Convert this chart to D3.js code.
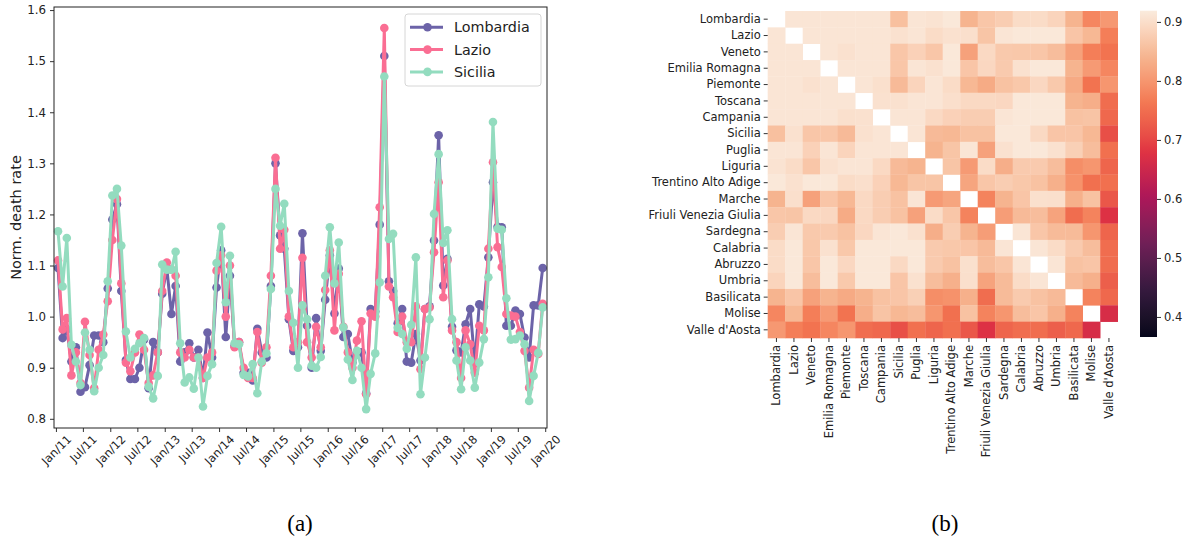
<!DOCTYPE html>
<html>
<head>
<meta charset="utf-8">
<title>Normalized death rate and correlation between regions</title>
<style>
  body { margin: 0; background: white; }
  svg { font-family: "DejaVu Sans", sans-serif; }
</style>
<script src="https://d3js.org/d3.v7.min.js"></script>
</head>
<body>
<script>
let width = 1189
let height = 544

// ---- panel (a): monthly normalized death rate, Jan/11 .. Dec/19
let months = d3.range(108).map(i => new Date(2011, i, 15))
let tickDates = d3.range(19).map(i => new Date(2011, i * 6, 1))
let yTicks = [0.8, 0.9, 1.0, 1.1, 1.2, 1.3, 1.4, 1.5, 1.6]

let lombardia = [
  1.095, 0.958, 0.975, 0.912, 0.940, 0.853, 0.862, 0.905, 0.963, 0.963, 0.950, 1.055,
  1.190, 1.220, 1.050, 0.915, 0.878, 0.878, 0.900, 0.955, 0.860, 0.950, 0.930, 1.045,
  1.095, 1.005, 1.060, 0.912, 0.930, 0.948, 0.920, 0.935, 0.880, 0.969, 0.920, 1.057,
  1.130, 0.960, 1.080, 0.943, 0.950, 0.890, 0.890, 0.875, 0.976, 0.930, 0.920, 1.060,
  1.300, 1.159, 1.133, 0.995, 0.933, 0.940, 1.163, 0.982, 0.900, 0.997, 0.933, 1.033,
  1.120, 1.006, 1.094, 0.960, 0.966, 0.910, 0.930, 0.930, 0.850, 1.015, 1.010, 1.180,
  1.510, 1.069, 1.050, 0.987, 1.015, 0.912, 0.910, 0.966, 0.914, 1.015, 1.020, 1.149,
  1.355, 1.061, 1.113, 0.980, 0.934, 0.930, 0.985, 1.015, 0.910, 1.024, 1.020, 1.116,
  1.263, 1.176, 1.175, 0.982, 0.982, 1.012, 1.005, 0.959, 0.920, 1.022, 1.022, 1.095
]
let lazio = [
  1.110, 0.975, 0.997, 0.885, 0.930, 0.870, 0.990, 0.925, 0.860, 0.935, 0.965, 1.030,
  1.150, 1.230, 1.065, 0.910, 0.893, 0.930, 0.965, 0.935, 0.870, 0.885, 0.930, 1.050,
  1.106, 1.092, 1.080, 0.930, 0.920, 0.935, 0.920, 0.920, 0.880, 0.920, 0.930, 1.090,
  1.120, 1.000, 1.100, 0.940, 0.950, 0.900, 0.880, 0.880, 0.970, 0.910, 0.940, 1.080,
  1.311, 1.133, 1.170, 1.000, 0.940, 0.950, 1.115, 0.950, 0.920, 0.980, 0.940, 1.052,
  1.130, 0.973, 1.084, 0.980, 0.930, 0.900, 0.953, 0.991, 0.848, 1.006, 1.000, 1.214,
  1.565, 1.059, 1.038, 0.970, 1.000, 0.950, 0.950, 1.020, 0.897, 1.015, 1.018, 1.126,
  1.263, 1.038, 1.110, 0.973, 0.950, 0.880, 0.973, 0.946, 0.890, 0.982, 0.973, 1.133,
  1.302, 1.136, 1.097, 1.005, 1.002, 1.000, 0.970, 0.933, 0.861, 0.935, 0.927, 1.025
]
let sicilia = [
  1.167, 1.059, 1.154, 0.945, 0.912, 0.866, 0.969, 0.935, 0.854, 0.900, 0.925, 1.069,
  1.237, 1.250, 1.139, 0.971, 0.920, 0.937, 0.948, 0.958, 0.863, 0.840, 0.884, 1.102,
  1.092, 1.092, 1.127, 0.948, 0.871, 0.881, 0.859, 0.920, 0.824, 0.884, 0.907, 1.105,
  1.176, 1.028, 1.119, 0.948, 0.946, 0.886, 0.883, 0.907, 0.850, 0.912, 0.928, 1.054,
  1.250, 1.178, 1.221, 1.050, 0.988, 0.900, 1.022, 0.995, 0.904, 0.900, 0.921, 1.080,
  1.175, 1.065, 1.145, 0.979, 0.916, 0.876, 0.933, 0.900, 0.819, 0.888, 0.928, 1.067,
  1.470, 1.152, 1.162, 0.978, 0.966, 0.937, 0.984, 1.116, 0.848, 0.920, 0.995, 1.201,
  1.318, 1.144, 1.169, 0.995, 0.914, 0.858, 0.940, 0.914, 0.861, 0.910, 0.956, 1.077,
  1.381, 1.172, 1.170, 1.036, 0.955, 0.956, 0.963, 0.946, 0.835, 0.884, 0.929, 1.018
]
let seriesNames = ["Lombardia", "Lazio", "Sicilia"]
let seriesColors = ["#6c63a8", "#fa6e93", "#93dcbf"]

// ---- panel (b): correlation between regions (upper triangle, row r -> columns r+1..19)
let regions = ["Lombardia", "Lazio", "Veneto", "Emilia Romagna", "Piemonte", "Toscana",
  "Campania", "Sicilia", "Puglia", "Liguria", "Trentino Alto Adige", "Marche",
  "Friuli Venezia Giulia", "Sardegna", "Calabria", "Abruzzo", "Umbria", "Basilicata",
  "Molise", "Valle d'Aosta"]
let corrUpper = [
  [.911, .911, .911, .911, .911, .911, .857, .911, .908, .915, .840, .866, .876, .897, .897, .886, .840, .780, .803],
  [.911, .911, .911, .911, .911, .905, .911, .897, .905, .902, .864, .911, .915, .915, .915, .865, .845, .770],
  [.911, .905, .911, .911, .866, .882, .866, .915, .815, .893, .870, .868, .866, .853, .815, .770, .757],
  [.911, .911, .911, .866, .911, .905, .915, .865, .891, .872, .905, .915, .915, .840, .806, .780],
  [.911, .903, .849, .886, .911, .897, .845, .828, .860, .868, .891, .870, .826, .757, .800],
  [.905, .905, .911, .911, .902, .893, .893, .891, .915, .915, .915, .840, .832, .748],
  [.911, .911, .893, .882, .876, .876, .911, .915, .915, .915, .860, .863, .742],
  [.911, .849, .845, .860, .860, .915, .915, .893, .865, .865, .845, .710],
  [.840, .864, .911, .815, .905, .915, .915, .905, .880, .853, .752],
  [.864, .806, .897, .832, .872, .872, .853, .790, .800, .737],
  [.820, .866, .876, .868, .860, .835, .795, .752, .752],
  [.777, .840, .865, .903, .902, .835, .860, .720],
  [.810, .849, .853, .817, .748, .777, .675],
  [.911, .866, .850, .850, .800, .737],
  [.911, .897, .872, .853, .748],
  [.911, .860, .865, .748],
  [.849, .835, .730],
  [.777, .742],
  [.665]
]
let cbarTicks = [0.4, 0.5, 0.6, 0.7, 0.8, 0.9]
let cbarRange = [0.366, 0.919]

let svg = d3.select("body").append("svg")
  .attr("width", width)
  .attr("height", height)

// ================= panel (a) =================
let plot = { left: 54, right: 547, top: 7, bottom: 428 }

let x = d3.scaleTime()
  .domain([new Date(2010, 11, 19), new Date(2020, 0, 13)])
  .range([plot.left, plot.right])
let y = d3.scaleLinear()
  .domain([0.782, 1.606])
  .range([plot.bottom, plot.top])

let yAxis = svg.append("g")
  .attr("transform", `translate(${plot.left},0)`)
  .call(d3.axisLeft(y).tickValues(yTicks).tickFormat(d3.format(".1f")).tickSize(4).tickPadding(4))
yAxis.select(".domain").remove()
yAxis.selectAll("text").attr("font-size", 11.8).attr("fill", "#222").attr("font-family", "DejaVu Sans")
yAxis.selectAll("line").attr("stroke", "#333")

let xAxis = svg.append("g")
  .attr("transform", `translate(0,${plot.bottom})`)
  .call(d3.axisBottom(x).tickValues(tickDates).tickFormat(d3.timeFormat("%b/%y")).tickSize(4))
xAxis.select(".domain").remove()
xAxis.selectAll("line").attr("stroke", "#333")
xAxis.selectAll("text")
  .attr("font-size", 11.5)
  .attr("fill", "#222")
  .attr("font-family", "DejaVu Sans")
  .attr("text-anchor", "middle")
  .attr("dominant-baseline", "central")
  .attr("dy", null)
  .each(function () {
    let len = this.getComputedTextLength()
    let box = (len + 9) / Math.SQRT2
    d3.select(this).attr("y", 6 + box / 2).attr("transform", `rotate(-45,0,${6 + box / 2})`)
  })

svg.append("text")
  .attr("transform", `translate(21,${(plot.top + plot.bottom) / 2}) rotate(-90)`)
  .attr("text-anchor", "middle")
  .attr("font-size", 14.5)
  .attr("fill", "#222")
  .text("Norm. death rate")

let allSeries = [lombardia, lazio, sicilia]
let line = d3.line()
  .x((d, i) => x(months[i]))
  .y(d => y(d))

allSeries.forEach((vals, k) => {
  let g = svg.append("g")
  g.append("path")
    .datum(vals)
    .attr("d", line)
    .attr("fill", "none")
    .attr("stroke", seriesColors[k])
    .attr("stroke-width", 3)
    .attr("stroke-linejoin", "round")
  g.selectAll("circle")
    .data(vals)
    .enter()
    .append("circle")
    .attr("cx", (d, i) => x(months[i]))
    .attr("cy", d => y(d))
    .attr("r", 4.3)
    .attr("fill", seriesColors[k])
})

svg.append("rect")
  .attr("x", plot.left)
  .attr("y", plot.top)
  .attr("width", plot.right - plot.left)
  .attr("height", plot.bottom - plot.top)
  .attr("fill", "none")
  .attr("stroke", "#222")
  .attr("stroke-width", 1)

let legend = svg.append("g")
legend.append("rect")
  .attr("x", 405)
  .attr("y", 14)
  .attr("width", 136)
  .attr("height", 72)
  .attr("rx", 3)
  .attr("fill", "white")
  .attr("fill-opacity", 0.8)
  .attr("stroke", "#d6d6d6")
seriesNames.forEach((name, k) => {
  let ly = 27.3 + k * 22.3
  legend.append("line")
    .attr("x1", 410).attr("x2", 443)
    .attr("y1", ly).attr("y2", ly)
    .attr("stroke", seriesColors[k])
    .attr("stroke-width", 3)
  legend.append("circle")
    .attr("cx", 427.5).attr("cy", ly).attr("r", 4.3)
    .attr("fill", seriesColors[k])
  legend.append("text")
    .attr("x", 454).attr("y", ly)
    .attr("dominant-baseline", "central")
    .attr("font-size", 14.3)
    .attr("fill", "#222")
    .text(name)
})

svg.append("text")
  .attr("x", 300).attr("y", 531)
  .attr("text-anchor", "middle")
  .attr("font-family", "Liberation Serif")
  .attr("font-size", 23)
  .text("(a)")

// ================= panel (b) =================
let hm = { left: 767.7, right: 1117.7, top: 11, bottom: 338 }

let n = regions.length
let matrix = []
for (let r = 0; r < n; r++) {
  for (let c = 0; c < n; c++) {
    if (r === c) continue
    let v = r < c ? corrUpper[r][c - r - 1] : corrUpper[c][r - c - 1]
    matrix.push({ row: regions[r], col: regions[c], value: v })
  }
}

let rocketT = [0, 0.143, 0.286, 0.429, 0.571, 0.714, 0.857, 1]
let rocket = d3.scaleLinear()
  .domain(rocketT.map(t => cbarRange[0] + t * (cbarRange[1] - cbarRange[0])))
  .range(["#03051a", "#35193e", "#701f57", "#ad1759", "#e13342", "#f37651", "#f6b48f", "#faebdd"])
  .interpolate(d3.interpolateLab)
  .clamp(true)

let hx = d3.scaleBand().domain(regions).range([hm.left, hm.right])
let hy = d3.scaleBand().domain(regions).range([hm.top, hm.bottom])

svg.append("g")
  .selectAll("rect")
  .data(matrix)
  .enter()
  .append("rect")
  .attr("x", d => hx(d.col))
  .attr("y", d => hy(d.row))
  .attr("width", hx.bandwidth() + 0.3)
  .attr("height", hy.bandwidth() + 0.3)
  .attr("fill", d => rocket(d.value))

let hyAxis = svg.append("g")
  .attr("transform", `translate(${hm.left},0)`)
  .call(d3.axisLeft(hy).tickSize(4).tickPadding(3))
hyAxis.select(".domain").remove()
hyAxis.selectAll("line").attr("stroke", "#333")
hyAxis.selectAll("text").attr("font-size", 11.5).attr("fill", "#222").attr("font-family", "DejaVu Sans")

let hxAxis = svg.append("g")
  .attr("transform", `translate(0,${hm.bottom})`)
  .call(d3.axisBottom(hx).tickSize(4))
hxAxis.select(".domain").remove()
hxAxis.selectAll("line").attr("stroke", "#333")
hxAxis.selectAll("text")
  .attr("font-size", 11.5)
  .attr("fill", "#222")
  .attr("font-family", "DejaVu Sans")
  .attr("text-anchor", "end")
  .attr("dominant-baseline", "central")
  .attr("dy", null)
  .attr("y", 0)
  .attr("transform", "translate(0,7) rotate(-90)")

// colour bar
let cb = { left: 1140, right: 1157, top: 10.7, bottom: 337 }
let grad = svg.append("defs").append("linearGradient")
  .attr("id", "cbar")
  .attr("x1", 0).attr("y1", 1).attr("x2", 0).attr("y2", 0)
d3.range(0, 1.0001, 0.02).forEach(t => {
  grad.append("stop")
    .attr("offset", t)
    .attr("stop-color", rocket(cbarRange[0] + t * (cbarRange[1] - cbarRange[0])))
})
svg.append("rect")
  .attr("x", cb.left).attr("y", cb.top)
  .attr("width", cb.right - cb.left).attr("height", cb.bottom - cb.top)
  .attr("fill", "url(#cbar)")

let cy = d3.scaleLinear().domain(cbarRange).range([cb.bottom, cb.top])
let cAxis = svg.append("g")
  .attr("transform", `translate(${cb.right},0)`)
  .call(d3.axisRight(cy).tickValues(cbarTicks).tickFormat(d3.format(".1f")).tickSize(4).tickPadding(3))
cAxis.select(".domain").remove()
cAxis.selectAll("line").attr("stroke", "#333")
cAxis.selectAll("text").attr("font-size", 11.5).attr("fill", "#222").attr("font-family", "DejaVu Sans")

svg.append("text")
  .attr("x", 945).attr("y", 531)
  .attr("text-anchor", "middle")
  .attr("font-family", "Liberation Serif")
  .attr("font-size", 23)
  .text("(b)")
</script>
</body>
</html>
